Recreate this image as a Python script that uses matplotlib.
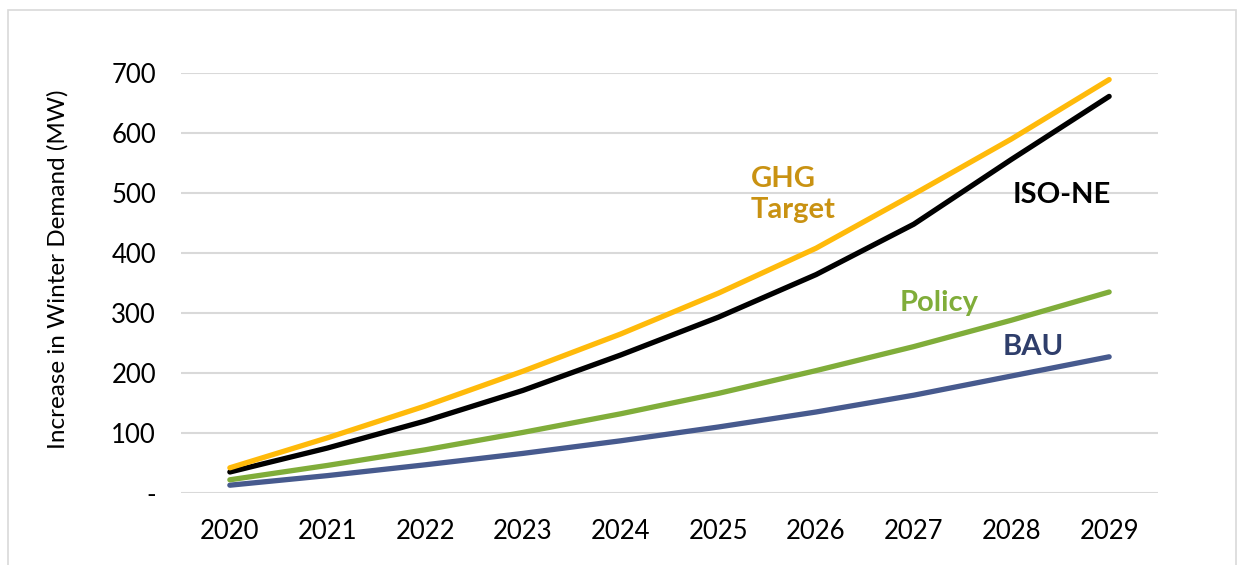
import matplotlib
matplotlib.use("Agg")
import matplotlib.pyplot as plt
from matplotlib.patches import Rectangle

# data (MW)
years = ["2020", "2021", "2022", "2023", "2024", "2025", "2026", "2027", "2028", "2029"]
ghg_target = [42, 92, 145, 203, 265, 333, 408, 498, 590, 689]
iso_ne = [35, 75, 120, 171, 230, 293, 364, 448, 556, 661]
policy = [22, 46, 72, 101, 132, 166, 204, 244, 288, 335]
bau = [13, 29, 47, 66, 87, 110, 135, 163, 195, 227]

yticks = [0, 100, 200, 300, 400, 500, 600, 700]
ytick_labels = ["-", "100", "200", "300", "400", "500", "600", "700"]

plt.rcParams['font.family'] = ['Lato', 'DejaVu Sans']

fig = plt.figure(figsize=(12.44, 5.65), dpi=100)
ax = fig.add_axes([181 / 1244, 1 - 493 / 565, (1158 - 181) / 1244, 420 / 565])

# light frame around the whole chart
fig.patches.append(Rectangle((8 / 1244, -0.05), (1236 - 8) / 1244, 1.05 - 10 / 565,
                             transform=fig.transFigure, fill=False,
                             edgecolor='#D9D9D9', linewidth=1.2))

x = list(range(len(years)))
lw = 3.8
ax.plot(x, bau, color='#475A8E', lw=lw, solid_capstyle='round', zorder=3)
ax.plot(x, policy, color='#80AD3A', lw=lw, solid_capstyle='round', zorder=3)
ax.plot(x, iso_ne, color='#000000', lw=lw, solid_capstyle='round', zorder=3)
ax.plot(x, ghg_target, color='#FFBA0A', lw=lw, solid_capstyle='round', zorder=3)

ax.set_xlim(-0.5, len(years) - 0.5)
ax.set_ylim(0, 700)
ax.set_xticks(x)
ax.set_xticklabels(years)
ax.set_yticks(yticks)
ax.set_yticklabels(ytick_labels)
ax.tick_params(axis='both', length=0, labelsize=18.5)
ax.tick_params(axis='x', pad=19)
ax.tick_params(axis='y', pad=18)
ax.grid(axis='y', color='#D9D9D9', lw=1.5)
ax.set_axisbelow(True)
for s in ax.spines.values():
    s.set_visible(False)

fig.text(58 / 1244, 1 - 269 / 565, "Increase in Winter Demand (MW)",
         rotation=90, ha='center', va='center', fontsize=17.5)

# series labels
ax.text(5.33, 497, "GHG\nTarget", color='#C99212', fontsize=21, fontweight='bold',
        ha='left', va='center', linespacing=1.25)
ax.text(8.01, 497, "ISO-NE", color='#000000', fontsize=21, fontweight='bold',
        ha='left', va='center')
ax.text(6.86, 317, "Policy", color='#80AD3A', fontsize=21, fontweight='bold',
        ha='left', va='center')
ax.text(7.91, 243, "BAU", color='#2F3E6B', fontsize=21, fontweight='bold',
        ha='left', va='center')

fig.savefig("out.png", dpi=100)
